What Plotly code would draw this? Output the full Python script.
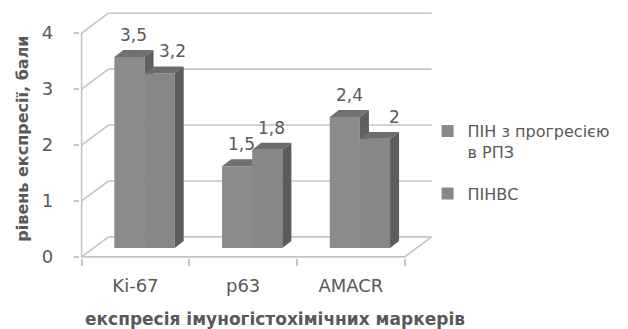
import plotly.graph_objects as go

# ---- data -------------------------------------------------------------
categories = ["Ki-67", "p63", "AMACR"]
series_names = ["ПІН з прогресією<br>в РПЗ", "ПІНВС"]
pin_progression = [3.5, 1.5, 2.4]
pin_vs = [3.2, 1.8, 2.0]
y_ticks = [0, 1, 2, 3, 4]
y_title = "рівень експресії, бали"
x_title = "експресія імуногістохімічних маркерів"

series_values = [pin_progression, pin_vs]

# label nudges (px) for labels that sit beside a taller neighbour
label_nudge = [[0, 0, 0], [8, 0, 15]]

# ---- style / geometry -------------------------------------------------
W, H = 628, 329
FONT = "DejaVu Sans"
TEXT = "#595959"
WALL = "#c4c4c4"
FRONT = ["#8b8b8b", "#878787"]
TOP = ["#707070", "#6c6c6c"]
SIDE = ["#5f5f5f", "#5c5c5c"]
CLEAR = "rgba(0,0,0,0)"
NBSP = "\u00a0"

PXU, PXV = 107.7, 56.0          # pixels per category unit / value unit
U0_PX, V0_PX = 82.0, 257.0       # pixel position of (0, 0)
XMIN, XMAX = -0.015, 3.3
YMIN, YMAX = -0.02, 4.45

WALL_DX, WALL_DY = 0.25, 0.357   # depth of the chart box (oblique projection)
ROW_DX, ROW_DY = 0.084, 0.16     # depth at which the bar row stands
BAR_DX, BAR_DY = 0.084, 0.125    # depth of a single bar
BAR_W = 0.28
BAR_SCALE = 0.975                # slight perspective shrink of the bar row

ml = U0_PX + XMIN * PXU
pw = (XMAX - XMIN) * PXU
mr = W - ml - pw
mb = H - (V0_PX - YMIN * PXV)
ph = (YMAX - YMIN) * PXV
mt = H - mb - ph


def paper_x(px):
    return (px - ml) / pw


def paper_y(py):
    return ((H - mb) - py) / ph


fig = go.Figure()


def line(xs, ys, color=WALL, width=1.6):
    fig.add_trace(go.Scatter(x=xs, y=ys, mode="lines",
                             line=dict(color=color, width=width),
                             hoverinfo="skip", showlegend=False))


def poly(xs, ys, color):
    fig.add_trace(go.Scatter(x=xs + [xs[0]], y=ys + [ys[0]], mode="lines",
                             fill="toself", fillcolor=color,
                             line=dict(width=0, color=color),
                             hoverinfo="skip", showlegend=False))


n_cat = len(categories)

# back wall gridlines and left wall diagonals
for v in y_ticks:
    line([WALL_DX, n_cat + WALL_DX], [v + WALL_DY, v + WALL_DY])
    line([0, WALL_DX], [v, v + WALL_DY])
# front value axis
line([0, 0], [y_ticks[0], y_ticks[-1]])
# floor outline
line([0, n_cat, n_cat + WALL_DX], [0, 0, WALL_DY])

# bars as prisms: front, top and right-side faces
for i in range(n_cat):
    for j, vals in enumerate(series_values):
        v = vals[i]
        x0 = i + 0.5 + ROW_DX + (j - 1) * BAR_W
        x1 = x0 + BAR_W
        b = ROW_DY
        t = ROW_DY + v * BAR_SCALE
        poly([x0, x1, x1, x0], [b, b, t, t], FRONT[j])
        poly([x0, x1, x1 + BAR_DX, x0 + BAR_DX], [t, t, t + BAR_DY, t + BAR_DY], TOP[j])
        poly([x1, x1 + BAR_DX, x1 + BAR_DX, x1], [b, b + BAR_DY, t + BAR_DY, t], SIDE[j])
        fig.add_annotation(
            x=(x0 + x1) / 2 + BAR_DX / 2, y=t + BAR_DY,
            text=f"{v:g}".replace(".", ","),
            showarrow=False, yanchor="bottom", xanchor="center",
            xshift=label_nudge[j][i], yshift=3,
            font=dict(family=FONT, size=17, color=TEXT))

# legend entries
for j, name in enumerate(series_names):
    fig.add_trace(go.Bar(x=[None], y=[None], name=name,
                         marker=dict(color=FRONT[j], line=dict(width=0)),
                         legendgroup=f"s{j}"))

# axis titles
fig.add_annotation(x=paper_x(275), y=paper_y(319), xref="paper", yref="paper",
                   xanchor="center", yanchor="middle",
                   text=f"<b>{x_title}</b>", showarrow=False,
                   font=dict(family=FONT, size=17, color=TEXT))
fig.add_annotation(x=paper_x(22), y=paper_y(139), xref="paper", yref="paper",
                   xanchor="center", yanchor="middle",
                   text=f"<b>{y_title}</b>", showarrow=False, textangle=-90,
                   font=dict(family=FONT, size=16, color=TEXT))

fig.update_layout(
    width=W, height=H,
    margin=dict(l=ml, r=mr, t=mt, b=mb, pad=0),
    paper_bgcolor="white", plot_bgcolor="white",
    font=dict(family=FONT, color=TEXT),
    showlegend=True,
    legend=dict(x=paper_x(428), y=paper_y(114), xanchor="left", yanchor="top",
                valign="top", traceorder="grouped", tracegroupgap=18,
                font=dict(family=FONT, size=16, color=TEXT),
                bgcolor=CLEAR),
    xaxis=dict(range=[XMIN, XMAX], showgrid=False, zeroline=False, showline=False,
               tickmode="array", tickvals=[i + 0.5 for i in range(n_cat)],
               ticktext=categories,
               # invisible major ticks push the labels down; minor ticks are the visible ones
               ticks="outside", ticklen=11, tickcolor=CLEAR,
               tickfont=dict(family=FONT, size=18, color=TEXT),
               minor=dict(tickmode="array", tickvals=list(range(n_cat + 1)),
                          ticks="outside", ticklen=7, tickwidth=1.6, tickcolor=WALL,
                          showgrid=False),
               fixedrange=True),
    yaxis=dict(range=[YMIN, YMAX], showgrid=False, zeroline=False, showline=False,
               tickmode="array", tickvals=y_ticks,
               ticktext=[f"{v}{NBSP * 3}" for v in y_ticks],
               ticks="outside", ticklen=5, tickwidth=1.6, tickcolor=WALL,
               tickfont=dict(family=FONT, size=18, color=TEXT),
               fixedrange=True),
)

fig.write_html("out.html")
